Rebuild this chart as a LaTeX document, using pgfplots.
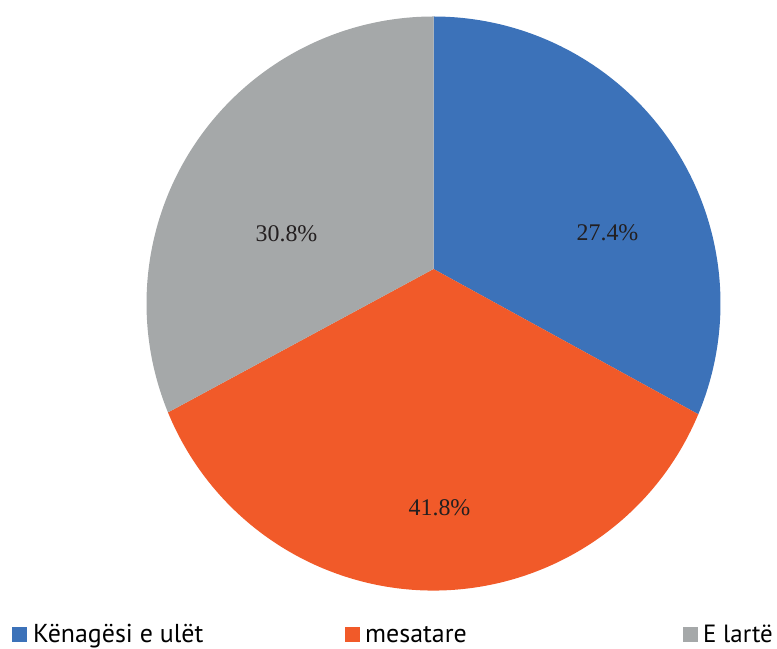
\documentclass[border=0pt]{standalone}
\usepackage{pgfplots}
\pgfplotsset{compat=1.18}
\usepackage{fontspec}
\setmainfont{Liberation Serif}
\newfontfamily\legfont{PT Sans}
\definecolor{cblue}{HTML}{3C72B9}
\definecolor{corange}{HTML}{F15A29}
\definecolor{cgray}{HTML}{A5A8A9}
\definecolor{ctext}{HTML}{231F20}
\begin{document}
\begin{tikzpicture}
\begin{axis}[
  at={(0,0)}, anchor=south west,
  scale only axis, width=777bp, height=649bp,
  xmin=0, xmax=777, ymin=0, ymax=649,
  hide axis, clip=false]
% slices: vertex (433.5,380), circle centre (433.5,345.5), radius 287
\fill[cblue] (axis cs:433.5,380) -- ([shift={(90:287bp)}]axis cs:433.5,345.5)
  arc[start angle=90, end angle=-22.7, radius=287bp] -- cycle;
\fill[corange] (axis cs:433.5,380) -- ([shift={(-22.7:287bp)}]axis cs:433.5,345.5)
  arc[start angle=-22.7, end angle=-157.7, radius=287bp] -- cycle;
\fill[cgray] (axis cs:433.5,380) -- ([shift={(202.3:287bp)}]axis cs:433.5,345.5)
  arc[start angle=202.3, end angle=90, radius=287bp] -- cycle;
% value labels
\node[anchor=base, text=ctext, font=\fontsize{24}{28}\selectfont, inner sep=0pt] at (axis cs:607.5,408) {27.4\%};
\node[anchor=base, text=ctext, font=\fontsize{24}{28}\selectfont, inner sep=0pt] at (axis cs:439.5,133) {41.8\%};
\node[anchor=base, text=ctext, font=\fontsize{24}{28}\selectfont, inner sep=0pt] at (axis cs:286.5,407) {30.8\%};
% legend
\fill[cblue] (axis cs:12,7) rectangle (axis cs:27,22);
\node[anchor=base west, inner sep=0pt, font=\legfont\fontsize{26}{30}\selectfont] at (axis cs:33,7) {Kënagësi e ulët};
\fill[corange] (axis cs:345,7) rectangle (axis cs:360,22);
\node[anchor=base west, inner sep=0pt, font=\legfont\fontsize{26}{30}\selectfont] at (axis cs:365,7) {mesatare};
\fill[cgray] (axis cs:683,7) rectangle (axis cs:698,22);
\node[anchor=base west, inner sep=0pt, font=\legfont\fontsize{25}{30}\selectfont] at (axis cs:703,7) {E lartë};
\end{axis}
\pgfresetboundingbox
\path[use as bounding box] (0,0) rectangle (777bp,649bp);
\end{tikzpicture}
\end{document}
